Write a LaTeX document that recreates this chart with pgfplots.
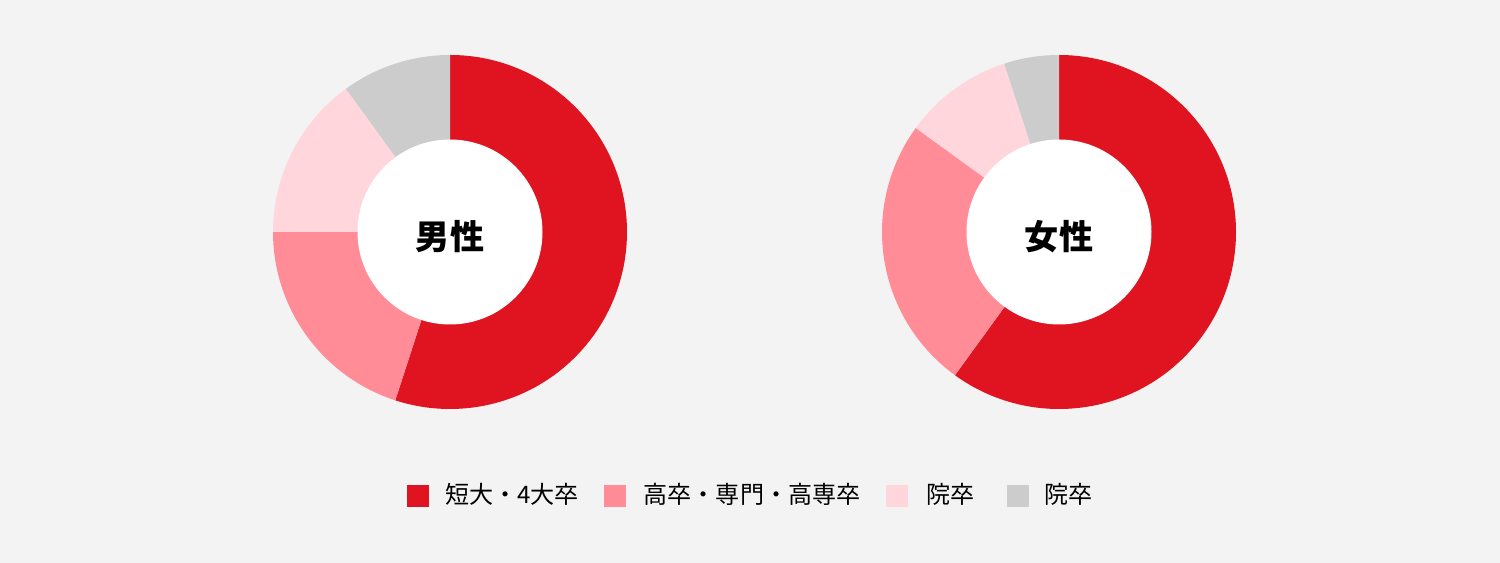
\documentclass[border=0pt]{standalone}
\usepackage{pgfplots}
\pgfplotsset{compat=1.18}
\usepackage{pgfplotstable}
\usepackage{fontspec}
\setmainfont{Noto Sans CJK JP}

\definecolor{bg}{HTML}{F3F3F3}
\definecolor{c0}{HTML}{DF1420}
\definecolor{c1}{HTML}{FF8C96}
\definecolor{c2}{HTML}{FFD6DC}
\definecolor{c3}{HTML}{CCCCCC}

% shares in percent, clockwise from 12 o'clock
\pgfplotstableread{
share
55
20
15
10
}\maledata
\pgfplotstableread{
share
60
25
10
5
}\femaledata

% #1 table, #2 #3 centre in axis units
\newcommand\donut[3]{%
  \def\cum{0}%
  \pgfplotsforeachungrouped \k in {0,...,3}{%
    \pgfplotstablegetelem{\k}{share}\of{#1}\let\v\pgfplotsretval
    \pgfmathsetmacro\aa{90-3.6*\cum}%
    \pgfmathsetmacro\bb{90-3.6*(\cum+\v)}%
    \pgfmathsetmacro\cum{\cum+\v}%
    \edef\temp{\noexpand\fill[c\k] (axis cs:#2,#3) -- +(\aa:1.77cm)
      arc[start angle=\aa, end angle=\bb, radius=1.77cm] -- cycle;}%
    \temp
  }%
  \edef\temp{\noexpand\fill[white] (axis cs:#2,#3) circle[radius=0.925cm];}\temp
}

\begin{document}
\begin{tikzpicture}
\begin{axis}[
    scale only axis,
    width=15cm, height=5.63cm,
    xmin=0, xmax=1500, ymin=0, ymax=563,
    hide axis, clip=false,
    legend columns=4,
    legend image code/.code={\fill[#1,draw=none] (0cm,-0.11cm) rectangle (0.22cm,0.11cm);},
    legend style={
        at={(axis cs:407,67)}, anchor=west,
        draw=none, fill=none, inner sep=0pt, outer sep=0pt,
        nodes={inner sep=0pt, font=\fontsize{6.85}{8}\selectfont},
        /tikz/column 1/.style={column sep=0.16cm},
        /tikz/column 2/.style={column sep=0.25cm},
        /tikz/column 3/.style={column sep=0.18cm},
        /tikz/column 4/.style={column sep=0.26cm},
        /tikz/column 5/.style={column sep=0.18cm},
        /tikz/column 6/.style={column sep=0.32cm},
        /tikz/column 7/.style={column sep=0.16cm},
    },
]
\fill[bg] (axis cs:0,0) rectangle (axis cs:1500,563);

\donut{\maledata}{450}{331}
\donut{\femaledata}{1059}{331}

\node[font=\fontsize{9.7}{12}\selectfont\bfseries] at (axis cs:450,326) {男性};
\node[font=\fontsize{9.7}{12}\selectfont\bfseries] at (axis cs:1059,326) {女性};

\addlegendimage{fill=c0}
\addlegendentry{短大・4大卒}
\addlegendimage{fill=c1}
\addlegendentry{高卒・専門・高専卒}
\addlegendimage{fill=c2}
\addlegendentry{院卒}
\addlegendimage{fill=c3}
\addlegendentry{院卒}
\end{axis}
\end{tikzpicture}
\end{document}
